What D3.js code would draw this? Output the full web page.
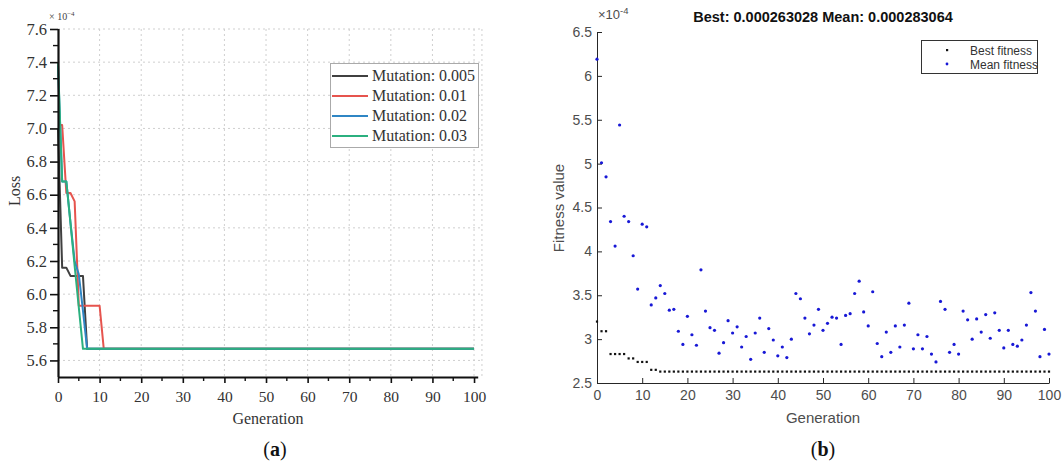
<!DOCTYPE html>
<html><head><meta charset="utf-8">
<script src="https://cdn.jsdelivr.net/npm/d3@7"></script>
<style>body{margin:0;background:#fff}svg{display:block}</style>
</head><body>
<svg id="c" width="1062" height="470"></svg>
<script>
// ---------- DATA ----------
const generationTicks = [0,10,20,30,40,50,60,70,80,90,100];
const lossTicks = [5.6,5.8,6.0,6.2,6.4,6.6,6.8,7.0,7.2,7.4,7.6];
const fitnessTicks = [2.5,3,3.5,4,4.5,5,5.5,6,6.5];
const mutationLabels = ["Mutation: 0.005","Mutation: 0.01","Mutation: 0.02","Mutation: 0.03"];

// Loss (×1e-4) per generation 0..100
const lossMut005 = [7.00,6.16,6.16,6.11,6.11,6.11,6.11,5.67,5.67,5.67,
  5.67,5.67,5.67,5.67,5.67,5.67,5.67,5.67,5.67,5.67,
  5.67,5.67,5.67,5.67,5.67,5.67,5.67,5.67,5.67,5.67,
  5.67,5.67,5.67,5.67,5.67,5.67,5.67,5.67,5.67,5.67,
  5.67,5.67,5.67,5.67,5.67,5.67,5.67,5.67,5.67,5.67,
  5.67,5.67,5.67,5.67,5.67,5.67,5.67,5.67,5.67,5.67,
  5.67,5.67,5.67,5.67,5.67,5.67,5.67,5.67,5.67,5.67,
  5.67,5.67,5.67,5.67,5.67,5.67,5.67,5.67,5.67,5.67,
  5.67,5.67,5.67,5.67,5.67,5.67,5.67,5.67,5.67,5.67,
  5.67,5.67,5.67,5.67,5.67,5.67,5.67,5.67,5.67,5.67,5.67];
const lossMut01 = [7.02,7.02,6.61,6.61,6.56,5.93,5.93,5.93,5.93,5.93,
  5.93,5.67,5.67,5.67,5.67,5.67,5.67,5.67,5.67,5.67,
  5.67,5.67,5.67,5.67,5.67,5.67,5.67,5.67,5.67,5.67,
  5.67,5.67,5.67,5.67,5.67,5.67,5.67,5.67,5.67,5.67,
  5.67,5.67,5.67,5.67,5.67,5.67,5.67,5.67,5.67,5.67,
  5.67,5.67,5.67,5.67,5.67,5.67,5.67,5.67,5.67,5.67,
  5.67,5.67,5.67,5.67,5.67,5.67,5.67,5.67,5.67,5.67,
  5.67,5.67,5.67,5.67,5.67,5.67,5.67,5.67,5.67,5.67,
  5.67,5.67,5.67,5.67,5.67,5.67,5.67,5.67,5.67,5.67,
  5.67,5.67,5.67,5.67,5.67,5.67,5.67,5.67,5.67,5.67,5.67];
const lossMut02 = [7.38,6.68,6.68,6.43,6.20,6.12,5.90,5.67,5.67,5.67,
  5.67,5.67,5.67,5.67,5.67,5.67,5.67,5.67,5.67,5.67,
  5.67,5.67,5.67,5.67,5.67,5.67,5.67,5.67,5.67,5.67,
  5.67,5.67,5.67,5.67,5.67,5.67,5.67,5.67,5.67,5.67,
  5.67,5.67,5.67,5.67,5.67,5.67,5.67,5.67,5.67,5.67,
  5.67,5.67,5.67,5.67,5.67,5.67,5.67,5.67,5.67,5.67,
  5.67,5.67,5.67,5.67,5.67,5.67,5.67,5.67,5.67,5.67,
  5.67,5.67,5.67,5.67,5.67,5.67,5.67,5.67,5.67,5.67,
  5.67,5.67,5.67,5.67,5.67,5.67,5.67,5.67,5.67,5.67,
  5.67,5.67,5.67,5.67,5.67,5.67,5.67,5.67,5.67,5.67,5.67];
const lossMut03 = [7.40,6.68,6.68,6.43,6.17,5.92,5.67,5.67,5.67,5.67,
  5.67,5.67,5.67,5.67,5.67,5.67,5.67,5.67,5.67,5.67,
  5.67,5.67,5.67,5.67,5.67,5.67,5.67,5.67,5.67,5.67,
  5.67,5.67,5.67,5.67,5.67,5.67,5.67,5.67,5.67,5.67,
  5.67,5.67,5.67,5.67,5.67,5.67,5.67,5.67,5.67,5.67,
  5.67,5.67,5.67,5.67,5.67,5.67,5.67,5.67,5.67,5.67,
  5.67,5.67,5.67,5.67,5.67,5.67,5.67,5.67,5.67,5.67,
  5.67,5.67,5.67,5.67,5.67,5.67,5.67,5.67,5.67,5.67,
  5.67,5.67,5.67,5.67,5.67,5.67,5.67,5.67,5.67,5.67,
  5.67,5.67,5.67,5.67,5.67,5.67,5.67,5.67,5.67,5.67,5.67];

// Fitness (×1e-4) per generation 0..100
const bestFitness = [3.20,3.09,3.09,2.83,2.83,2.83,2.83,2.78,2.78,2.74,
  2.74,2.74,2.65,2.65,2.63,2.63,2.63,2.63,2.63,2.63,
  2.63,2.63,2.63,2.63,2.63,2.63,2.63,2.63,2.63,2.63,
  2.63,2.63,2.63,2.63,2.63,2.63,2.63,2.63,2.63,2.63,
  2.63,2.63,2.63,2.63,2.63,2.63,2.63,2.63,2.63,2.63,
  2.63,2.63,2.63,2.63,2.63,2.63,2.63,2.63,2.63,2.63,
  2.63,2.63,2.63,2.63,2.63,2.63,2.63,2.63,2.63,2.63,
  2.63,2.63,2.63,2.63,2.63,2.63,2.63,2.63,2.63,2.63,
  2.63,2.63,2.63,2.63,2.63,2.63,2.63,2.63,2.63,2.63,
  2.63,2.63,2.63,2.63,2.63,2.63,2.63,2.63,2.63,2.63,2.63];
const meanFitness = [6.19,5.01,4.85,4.34,4.06,5.44,4.40,4.34,3.95,3.57,
  4.31,4.28,3.39,3.47,3.61,3.52,3.33,3.34,3.09,2.94,
  3.26,3.05,2.93,3.79,3.32,3.13,3.10,2.84,2.96,3.21,
  3.07,3.14,2.91,3.03,2.77,3.07,3.24,2.85,3.12,2.99,
  2.81,2.91,2.79,3.00,3.52,3.46,3.24,3.06,3.16,3.34,
  3.10,3.18,3.25,3.24,2.94,3.27,3.29,3.52,3.66,3.31,
  3.15,3.54,2.95,2.80,3.08,2.85,3.15,2.91,3.16,3.41,
  2.89,3.05,2.89,3.03,2.83,2.74,3.43,3.34,2.85,2.94,
  2.83,3.32,3.22,3.00,3.23,3.08,3.28,3.01,3.30,3.10,
  2.90,3.10,2.94,2.92,2.99,3.16,3.53,3.32,2.80,3.11,2.83];

// ---------- CHART ----------
const svg = d3.select("#c");
const serif = "'Liberation Serif','Times New Roman',serif";
const sans = "'Liberation Sans',Arial,sans-serif";

// ===== Panel (a) =====
const xa = d3.scaleLinear().domain([0,101]).range([58,478.2]);
const ya = d3.scaleLinear().domain([5.5,7.6]).range([377,29]);
const ga = svg.append("g");

// grid
ga.append("g").selectAll("line").data(lossTicks).join("line")
  .attr("x1",xa(0)).attr("x2",xa(101)+4).attr("y1",d=>ya(d)).attr("y2",d=>ya(d))
  .attr("stroke","#cfcfcf").attr("stroke-dasharray","2,3").attr("stroke-width",1);
ga.append("g").selectAll("line").data(generationTicks.slice(1).concat([101.9])).join("line")
  .attr("x1",d=>xa(d)).attr("x2",d=>xa(d)).attr("y1",ya(7.6)).attr("y2",ya(5.5))
  .attr("stroke","#cfcfcf").attr("stroke-dasharray","2,3").attr("stroke-width",1);

// lines
const lossSeries = [lossMut005,lossMut01,lossMut02,lossMut03];
const lossColors = ["#404040","#e6544e","#2f86c4","#2bb07f"];
const lineA = d3.line().x((d,i)=>xa(i)).y(d=>ya(d));
ga.append("g").selectAll("path").data(lossSeries).join("path")
  .attr("d",lineA).attr("fill","none")
  .attr("stroke",(d,i)=>lossColors[i]).attr("stroke-width",2).attr("stroke-linejoin","round");

// axes
const axA_x = d3.axisBottom(xa).tickValues(generationTicks).tickSize(6).tickFormat(d3.format("d"));
const axA_y = d3.axisLeft(ya).tickValues(lossTicks).tickSize(8).tickFormat(d3.format(".1f"));
const gx = ga.append("g").attr("transform",`translate(0,${ya(5.5)})`).call(axA_x);
const gy = ga.append("g").attr("transform",`translate(${xa(0)},0)`).call(axA_y);
[gx,gy].forEach(g=>{
  g.select(".domain").attr("stroke","#111").attr("stroke-width",2.2);
  g.selectAll(".tick line").attr("stroke","#111").attr("stroke-width",1.6);
  g.selectAll(".tick text").attr("fill","#333").style("font-family",serif);
});
gx.selectAll(".tick text").style("font-size","15.5px");
gy.selectAll(".tick text").style("font-size","16.5px");
gx.select(".domain").attr("d",`M${xa(0)},0.5H${xa(101)}`);
gy.select(".domain").attr("d",`M0.5,${ya(7.6)}V${ya(5.5)}`);
gx.selectAll(".tick text").attr("dy","1.05em");
gy.selectAll(".tick text").attr("x",-11);
// minor ticks
const minorX = generationTicks.slice(0,-1).map(d=>d+5);
ga.append("g").selectAll("line").data(minorX).join("line")
  .attr("x1",d=>xa(d)).attr("x2",d=>xa(d)).attr("y1",ya(5.5)).attr("y2",ya(5.5)+4)
  .attr("stroke","#111").attr("stroke-width",1.4);
const minorY = lossTicks.map(d=>d+0.1).filter(d=>d<7.6);
ga.append("g").selectAll("line").data(minorY).join("line")
  .attr("x1",xa(0)-5).attr("x2",xa(0)).attr("y1",d=>ya(d)).attr("y2",d=>ya(d))
  .attr("stroke","#111").attr("stroke-width",1.4);

// exponent
const ea = ga.append("text").attr("x",49).attr("y",20).attr("fill","#444")
  .style("font-family",serif).style("font-size","10px").text("× 10");
ea.append("tspan").attr("dy",-4).style("font-size","7px").text("−4");

// axis titles
ga.append("text").attr("x",268).attr("y",424).attr("text-anchor","middle").attr("fill","#333")
  .style("font-family",serif).style("font-size","16px").text("Generation");
ga.append("text").attr("transform","translate(20,191) rotate(-90)").attr("text-anchor","middle").attr("fill","#333")
  .style("font-family",serif).style("font-size","16px").text("Loss");

// legend
const lg = ga.append("g");
lg.append("rect").attr("x",330.5).attr("y",63.5).attr("width",148).attr("height",84)
  .attr("fill","#fff").attr("stroke","#aaa").attr("stroke-width",1);
mutationLabels.forEach((t,i)=>{
  const yy = 76 + i*20;
  lg.append("line").attr("x1",332).attr("x2",368).attr("y1",yy).attr("y2",yy)
    .attr("stroke",lossColors[i]).attr("stroke-width",2);
  lg.append("text").attr("x",372).attr("y",yy+5).attr("fill","#333")
    .style("font-family",serif).style("font-size","16px").text(t);
});

// panel label
const la = svg.append("text").attr("x",275).attr("y",456).attr("text-anchor","middle").attr("fill","#111")
  .style("font-family",serif).style("font-size","20px");
la.append("tspan").text("(");
la.append("tspan").style("font-weight","bold").text("a");
la.append("tspan").text(")");

// ===== Panel (b) =====
const xb = d3.scaleLinear().domain([0,100]).range([597,1049]);
const yb = d3.scaleLinear().domain([2.5,6.5]).range([383,32]);
const gb = svg.append("g");
const axB_x = d3.axisBottom(xb).tickValues(generationTicks).tickSizeInner(-5).tickSizeOuter(0).tickFormat(d3.format("d"));
const axB_y = d3.axisLeft(yb).tickValues(fitnessTicks).tickSizeInner(-5).tickSizeOuter(0).tickFormat(d=>String(d));
const bx = gb.append("g").attr("transform",`translate(0,${yb(2.5)})`).call(axB_x);
const by = gb.append("g").attr("transform",`translate(${xb(0)},0)`).call(axB_y);
[bx,by].forEach(g=>{
  g.select(".domain").attr("stroke","#262626").attr("stroke-width",1);
  g.selectAll(".tick line").attr("stroke","#262626");
  g.selectAll(".tick text").attr("fill","#4d4d4d").style("font-family",sans).style("font-size","14px");
});
bx.selectAll(".tick text").attr("y",7).attr("dy","0.71em");
by.selectAll(".tick text").attr("x",-5);

// points
gb.append("g").selectAll("rect").data(bestFitness).join("rect")
  .attr("x",(d,i)=>xb(i)-1.1).attr("y",d=>yb(d)-1.1).attr("width",2.2).attr("height",2.2).attr("fill","#111");
gb.append("g").selectAll("circle").data(meanFitness).join("circle")
  .attr("cx",(d,i)=>xb(i)).attr("cy",d=>yb(d)).attr("r",1.6).attr("fill","#1818d6");

// title & labels
gb.append("text").attr("x",823).attr("y",22).attr("text-anchor","middle").attr("fill","#111")
  .style("font-family",sans).style("font-size","14.5px").style("font-weight","bold")
  .text("Best: 0.000263028 Mean: 0.000283064");
const eb = gb.append("text").attr("x",598).attr("y",19).attr("fill","#4d4d4d")
  .style("font-family",sans).style("font-size","13px").text("×10");
eb.append("tspan").attr("dy",-5).style("font-size","9.5px").text("-4");
gb.append("text").attr("x",823).attr("y",423).attr("text-anchor","middle").attr("fill","#4d4d4d")
  .style("font-family",sans).style("font-size","15px").text("Generation");
gb.append("text").attr("transform","translate(564,208) rotate(-90)").attr("text-anchor","middle").attr("fill","#4d4d4d")
  .style("font-family",sans).style("font-size","15px").text("Fitness value");

// legend
const lb = gb.append("g");
lb.append("rect").attr("x",921.5).attr("y",40.5).attr("width",116).attr("height",33)
  .attr("fill","#fff").attr("stroke","#333").attr("stroke-width",1);
lb.append("rect").attr("x",946).attr("y",49).attr("width",2.2).attr("height",2.2).attr("fill","#111");
lb.append("circle").attr("cx",947).attr("cy",64).attr("r",1.4).attr("fill","#1818d6");
lb.append("text").attr("x",970).attr("y",55).attr("fill","#333").style("font-family",sans).style("font-size","12px").text("Best fitness");
lb.append("text").attr("x",970).attr("y",68.5).attr("fill","#333").style("font-family",sans).style("font-size","12px").text("Mean fitness");

const lbb = svg.append("text").attr("x",823).attr("y",456).attr("text-anchor","middle").attr("fill","#111")
  .style("font-family",serif).style("font-size","20px");
lbb.append("tspan").text("(");
lbb.append("tspan").style("font-weight","bold").text("b");
lbb.append("tspan").text(")");
</script>
</body></html>
